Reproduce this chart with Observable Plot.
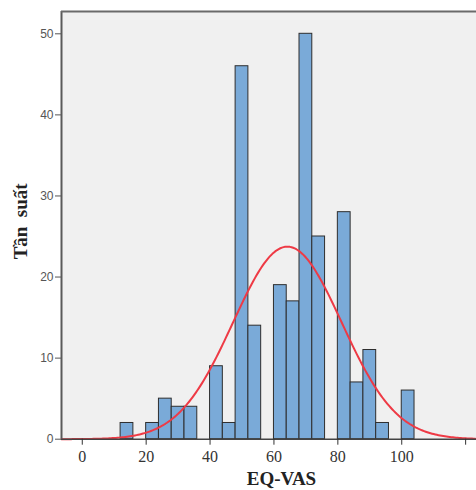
<!DOCTYPE html>
<html><head><meta charset="utf-8">
<script src="https://cdn.jsdelivr.net/npm/d3@7"></script>
<script src="https://cdn.jsdelivr.net/npm/@observablehq/plot@0.6"></script>
<style>body{margin:0;background:#fff}</style>
</head><body><div id="chart"></div>
<script>
const binStarts = [12, 16, 20, 24, 28, 32, 36, 40, 44, 48, 52, 56, 60, 64, 68, 72, 76, 80, 84, 88, 92, 96, 100];
const counts    = [ 2,  0,  2,  5,  4,  4,  0,  9,  2, 46, 14,  0, 19, 17, 50, 25,  0, 28,  7, 11,  2,  0,  6];
const binWidth = 4;
const fitMean = 64.2, fitSD = 17, fitN = 253;
const xTicks = [0, 20, 40, 60, 80, 100, 120];
const xTickLabels = ["0", "20", "40", "60", "80", "100", ""];
const yTicks = [0, 10, 20, 30, 40, 50];
const xLabel = "EQ-VAS";
const yLabel = "Tần  suất";
const xDomain = [-6.5, 123.4];
const yDomain = [0, 52.75];

const bars = binStarts.map((s, i) => ({x1: s, x2: s + binWidth, count: counts[i]})).filter(d => d.count > 0);
const curve = d3.range(xDomain[0], xDomain[1] + 0.01, 0.5).map(x => ({
  x,
  y: fitN * binWidth / (fitSD * Math.sqrt(2 * Math.PI)) * Math.exp(-((x - fitMean) ** 2) / (2 * fitSD ** 2))
}));

const chart = Plot.plot({
  width: 476, height: 490,
  marginLeft: 61, marginTop: 11, marginBottom: 51.3, marginRight: 0,
  x: {domain: xDomain},
  y: {domain: yDomain},
  style: {background: "#fff", overflow: "visible"},
  marks: [
    Plot.frame({fill: "#f0f0f0", stroke: null}),
    Plot.rectY(bars, {x1: "x1", x2: "x2", y: "count", fill: "#7aaad8", stroke: "#2e2e2e", strokeWidth: 1}),
    Plot.line(curve, {x: "x", y: "y", stroke: "#ee3a45", strokeWidth: 2}),
    Plot.ruleX([xDomain[0]], {stroke: "#5a5a5a", strokeWidth: 2}),
    Plot.ruleY([yDomain[1]], {stroke: "#6a6a6a", strokeWidth: 2}),
    Plot.ruleY([0], {stroke: "#444", strokeWidth: 1.5}),
    Plot.axisY({ticks: yTicks, tickSize: 6, tickPadding: 2, fontSize: 12, fontFamily: "Liberation Sans", color: "#555", label: null}),
    Plot.axisX({ticks: xTicks, tickFormat: (d) => xTickLabels[xTicks.indexOf(d)], tickSize: 6, tickPadding: 5, fontSize: 16, fontFamily: "Liberation Serif", color: "#333", label: null}),
    Plot.text([yLabel], {frameAnchor: "left", textAnchor: "middle", dx: -41, dy: -4, rotate: -90, fontSize: 19, fontWeight: "bold", fontFamily: "Liberation Serif", fill: "#222", style: {whiteSpace: "pre"}}),
    Plot.text([xLabel], {frameAnchor: "bottom", dx: 12.5, dy: 46, fontSize: 19, fontWeight: "bold", fontFamily: "Liberation Serif", fill: "#222"})
  ]
});
chart.querySelectorAll("text").forEach(t => t.setAttribute("xml:space", "preserve"));
document.getElementById("chart").appendChild(chart);
</script>
</body></html>
